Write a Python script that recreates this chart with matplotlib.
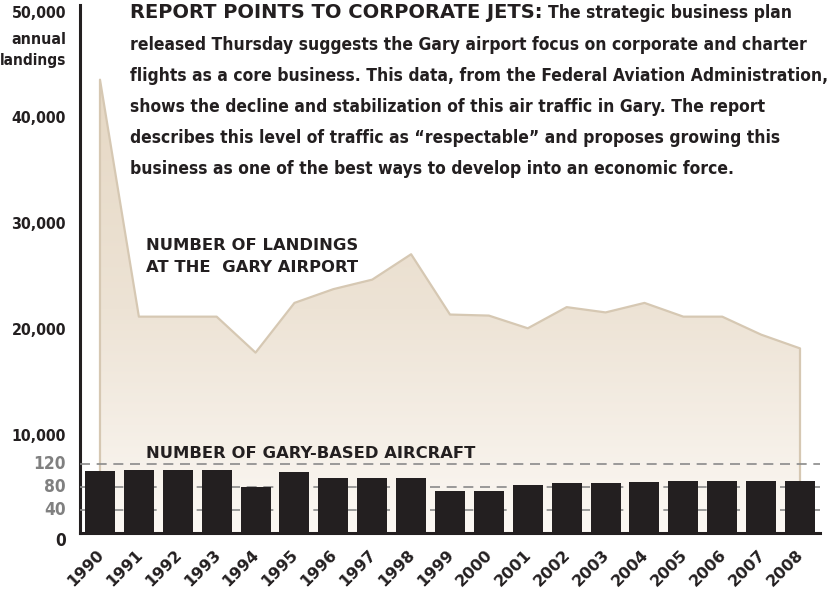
import matplotlib
matplotlib.use("Agg")
import matplotlib.pyplot as plt
import numpy as np
from matplotlib.colors import LinearSegmentedColormap
from matplotlib import font_manager
from matplotlib.font_manager import FontProperties

years = ["1990", "1991", "1992", "1993", "1994", "1995", "1996", "1997", "1998", "1999",
         "2000", "2001", "2002", "2003", "2004", "2005", "2006", "2007", "2008"]
landings = [43700, 21300, 21300, 21300, 17900, 22600, 23900, 24800, 27200, 21500,
            21400, 20200, 22200, 21700, 22600, 21300, 21300, 19600, 18300]
aircraft = [108, 110, 110, 110, 80, 106, 96, 96, 96, 73,
            73, 83, 87, 87, 89, 90, 90, 90, 90]

landing_ticks = [50000, 40000, 30000, 20000, 10000]
aircraft_ticks = [120, 80, 40]


def is_bold(f):
    w = f.weight
    if isinstance(w, str):
        return w.lower() in ("bold", "heavy", "black", "extra bold", "semibold", "demibold")
    return w >= 600


# look for a condensed bold face, otherwise fall back to Lato bold
narrow_fp = None
for f in font_manager.fontManager.ttflist:
    cond = "ondensed" in str(f.stretch) or "Narrow" in f.name or "Condensed" in f.name
    if cond and is_bold(f) and f.fname.lower().endswith((".ttf", ".otf")):
        narrow_fp = f.fname
        break
if narrow_fp is None:
    for f in font_manager.fontManager.ttflist:
        if f.name == "Lato" and is_bold(f) and "italic" not in f.style.lower():
            narrow_fp = f.fname
            break


def nfp(size):
    if narrow_fp:
        return FontProperties(fname=narrow_fp, size=size)
    return FontProperties(family="DejaVu Sans", weight="bold", size=size)


def hfp(size):
    # heavy face for headline, series labels and years
    return FontProperties(family="DejaVu Sans", weight="bold", size=size)


W, H = 832, 590
fig = plt.figure(figsize=(W / 100, H / 100), dpi=100)


def fx(px):
    return px / W


def fy(py):
    return 1 - py / H


ax = fig.add_axes([fx(80), fy(533), fx(820) - fx(80), fy(5) - fy(533)])
x = np.arange(len(years))
ax.set_xlim(-0.514, 18.514)
ax.set_ylim(850, 50760)

# gradient area for landings
poly = ax.fill_between(x, landings, 0, facecolor="none", edgecolor="#d6c8b3", lw=1.6, zorder=2)
cmap = LinearSegmentedColormap.from_list("tan", ["#fcf9f5", "#ede3d5", "#e6d8c4"])
grad = np.linspace(0, 1, 256).reshape(-1, 1)
im = ax.imshow(grad, extent=[-0.6, 18.6, 0, 44000], origin="lower", aspect="auto",
               cmap=cmap, zorder=1)
im.set_clip_path(poly.get_paths()[0], transform=ax.transData)
ax.set_xlim(-0.514, 18.514)
ax.set_ylim(850, 50760)

for s in ["top", "right"]:
    ax.spines[s].set_visible(False)
for s in ["left", "bottom"]:
    ax.spines[s].set_linewidth(2.2)
    ax.spines[s].set_color("#231f20")
ax.set_xticks([])
ax.set_yticks([])

ax2 = ax.twinx()
ax2.set_ylim(0, 918)
ax2.set_xlim(-0.514, 18.514)
for s in ["top", "right", "left", "bottom"]:
    ax2.spines[s].set_visible(False)
ax2.set_yticks([])
for t in aircraft_ticks:
    ax2.axhline(t, color="#8a8a8a", lw=1.2, dashes=(6, 4), zorder=1)
ax2.bar(x, aircraft, width=0.77, color="#231f20", zorder=3)

fig.canvas.draw()
r = fig.canvas.get_renderer()


def fit(text, px, fp=nfp, base=15):
    t = fig.text(0, 0, text, fontproperties=fp(base))
    w = t.get_window_extent(r).width
    t.remove()
    return base * px / w


# left axis labels
lab = min(fit("50,000", 55), 13.5)
for v in landing_ticks:
    y = ax.transData.transform((0, v))[1]
    fig.text(fx(66), y / H, f"{v:,}", ha="right", va="center", fontproperties=nfp(lab),
             color="#231f20")
fig.text(fx(66), fy(39), "annual", ha="right", va="center", fontproperties=nfp(lab),
         color="#231f20")
fig.text(fx(66), fy(60), "landings", ha="right", va="center", fontproperties=nfp(lab - 0.4),
         color="#231f20")
for v in aircraft_ticks:
    y = ax2.transData.transform((0, v))[1]
    fig.text(fx(66), y / H, str(v), ha="right", va="center", fontproperties=nfp(lab + 1),
             color="#808080")
fig.text(fx(66), fy(541), "0", ha="right", va="center", fontproperties=nfp(lab + 1),
         color="#231f20")

# year labels
for i, yr in enumerate(years):
    xp = ax.transData.transform((i - 0.1, 0))[0]
    fig.text(xp / W, fy(547), yr, rotation=45, rotation_mode="anchor", ha="right", va="top",
             fontproperties=hfp(11.5), color="#231f20")

# series labels
sz = fit("NUMBER OF LANDINGS", 211, hfp)
for txt, py in [("NUMBER OF LANDINGS", 245), ("AT THE  GARY AIRPORT", 268),
                ("NUMBER OF GARY-BASED AIRCRAFT", 453)]:
    fig.text(fx(146), fy(py), txt, ha="left", va="center", fontproperties=hfp(sz),
             color="#231f20")

# headline and body text
lines = [
    "released Thursday suggests the Gary airport focus on corporate and charter",
    "flights as a core business. This data, from the Federal Aviation Administration,",
    "shows the decline and stabilization of this air traffic in Gary. The report",
    "describes this level of traffic as \u201crespectable\u201d and proposes growing this",
    "business as one of the best ways to develop into an economic force.",
]
body = fit(lines[1], 698)
hs = fit("REPORT POINTS TO CORPORATE JETS:", 413, hfp)
head = fig.text(fx(130), fy(12), "REPORT POINTS TO CORPORATE JETS:", ha="left", va="center",
                fontproperties=hfp(hs), color="#231f20")
bb = head.get_window_extent(r)
fig.text((bb.x1 + 6) / W, fy(13), "The strategic business plan", ha="left", va="center",
         fontproperties=nfp(body), color="#231f20")
for k, ln in enumerate(lines):
    fig.text(fx(130), fy(45 + 31 * k), ln, ha="left", va="center",
             fontproperties=nfp(body), color="#231f20")

fig.savefig("out.png", dpi=100)
